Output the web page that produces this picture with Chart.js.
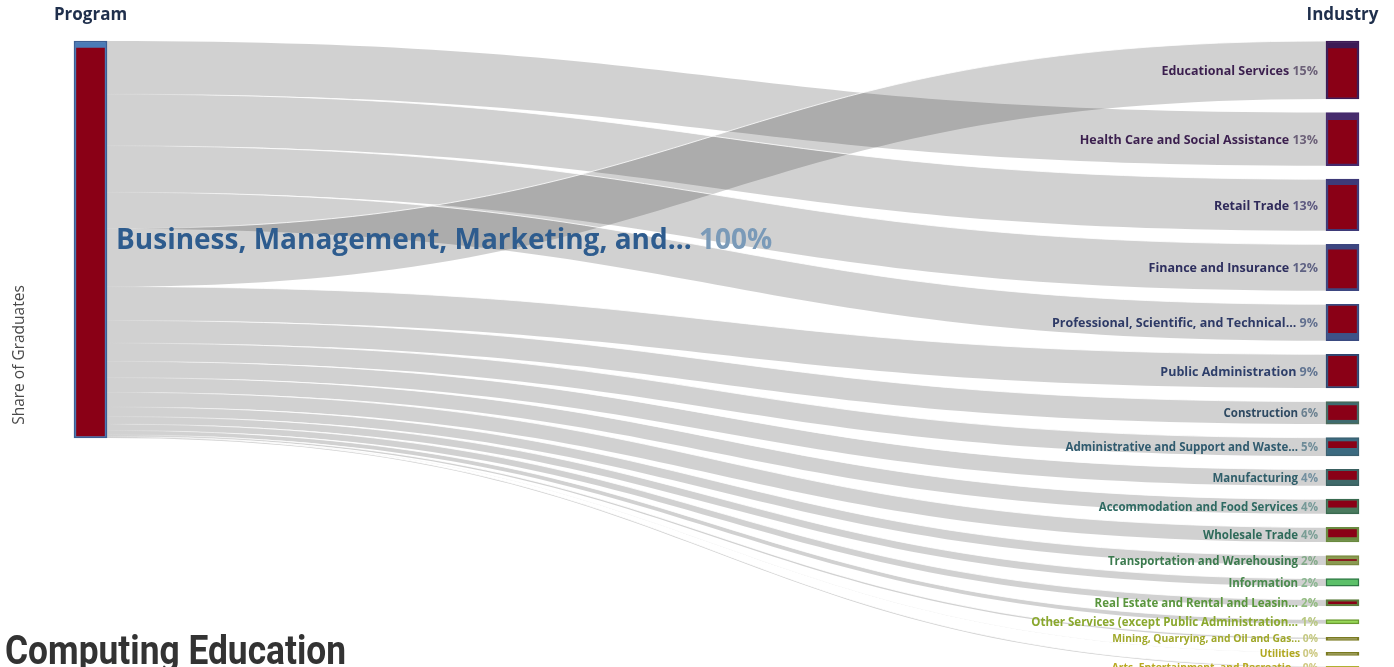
<!DOCTYPE html>
<html>
<head>
<meta charset="utf-8">
<script src="https://cdn.jsdelivr.net/npm/chart.js@4.4.1/dist/chart.umd.min.js"></script>
<style>
  body { margin: 0; background: #fff; }
  #wrap { width: 1394px; height: 667px; position: relative; }
</style>
</head>
<body>
<div id="wrap"><canvas id="sankey"></canvas></div>
<script>
// data (share of graduates, %)
const program = "Business, Management, Marketing, and...";
const industries = [
  "Educational Services", "Health Care and Social Assistance", "Retail Trade",
  "Finance and Insurance", "Professional, Scientific, and Technical...",
  "Public Administration", "Construction", "Administrative and Support and Waste...",
  "Manufacturing", "Accommodation and Food Services", "Wholesale Trade",
  "Transportation and Warehousing", "Information", "Real Estate and Rental and Leasin...",
  "Other Services (except Public Administration...", "Mining, Quarrying, and Oil and Gas...",
  "Utilities", "Arts, Entertainment, and Recreatio..."
];
const shares = [14.6, 13.4, 13.0, 11.7, 9.2, 8.5, 5.7, 4.6, 4.1, 3.7, 3.7, 2.4, 1.9, 1.6, 1.1, 0.4, 0.1, 0.3];
// order the bands leave the program node, top to bottom (index into industries)
const leaveOrder = [1, 2, 3, 4, 0, 5, 6, 7, 8, 9, 10, 11, 12, 13, 14, 15, 16, 17];
// red inner part of each node, fraction of node height measured from the top
const innerFrom = [0.13, 0.15, 0.12, 0.12, 0.05, 0.06, 0.18, 0.22, 0.12, 0.12, 0.15, 0.42, 0, 0.35, 0, 0, 0, 0];
const innerTo   = [0.97, 0.96, 0.96, 0.94, 0.78, 0.94, 0.80, 0.55, 0.62, 0.55, 0.65, 0.52, 0, 0.65, 0, 0, 0, 0];
const programInner = [0.018, 0.995];

// styles
const nodeColors = ["#3c1a55", "#462b6c", "#3e3a78", "#3d4680", "#3d5288", "#344f7a", "#3f6b6e", "#3b6a80",
  "#3f6a6a", "#4a7a5e", "#6a8a40", "#8a9a50", "#5cc069", "#5a7a3a", "#98d858", "#7a7a20", "#7a7a20", "#b0b030"];
const nodeBorders = ["#3c1a55", "#462b6c", "#3e3a78", "#3d4680", "#3a4a80", "#2e4570", "#4a6a5a", "#3a6070",
  "#3a6060", "#3a6a50", "#6a8a40", "#7a8a40", "#2f7a45", "#5a7a3a", "#6a9a30", "#7a7a20", "#7a7a20", "#b0b030"];
const nameColors = ["#3b1f4e", "#3b1f4e", "#2f2a5a", "#2e2f5e", "#2e3a66", "#2e3f6a", "#2f4a62", "#2f5a6e",
  "#2f5e6a", "#2e6a62", "#2e6a5a", "#3b7a4e", "#4a8a4e", "#5a963e", "#8aa82e", "#a0a82a", "#b0a820", "#b8a820"];
const pctColors = ["#6c6178", "#6c6178", "#5e5a80", "#5f6283", "#62708f", "#627592", "#6a8090", "#6f8c98",
  "#7390a0", "#769a98", "#7a9e95", "#84aa8a", "#8ab690", "#92bb80", "#b8c880", "#c4c880", "#ccc880", "#d0c880"];
const RED = "#8a0016";

const PX_PER_UNIT = 3.97;
const GAP = 13.5 / PX_PER_UNIT;
const Y_MAX = 626 / PX_PER_UNIT;
const NODE_W = 33;

const total = shares.reduce((a, b) => a + b, 0);
let acc = 0;
const rightNodes = shares.map(v => { const s = acc; acc += v + GAP; return [s, s + v]; });
const leftSegs = [];
acc = 0;
leaveOrder.forEach(i => { leftSegs[i] = [acc, acc + shares[i]]; acc += shares[i]; });

const part = (node, a, b) => [node[0] + (node[1] - node[0]) * a, node[0] + (node[1] - node[0]) * b];

const outerData = [{ x: 0, y: [0, total] }].concat(rightNodes.map(r => ({ x: 1, y: r })));
const innerData = [{ x: 0, y: part([0, total], programInner[0], programInner[1]) }]
  .concat(rightNodes.map((r, i) => innerTo[i] > innerFrom[i] ? { x: 1, y: part(r, innerFrom[i], innerTo[i]) } : null))
  .filter(d => d);

const flowPlugin = {
  id: 'flows',
  beforeDatasetsDraw(chart) {
    const { ctx, scales: { x, y } } = chart;
    const x0 = x.getPixelForValue(0) + NODE_W / 2;
    const x1 = x.getPixelForValue(1) - NODE_W / 2;
    const xm = (x0 + x1) / 2;
    ctx.save();
    shares.forEach((v, i) => {
      const ls = y.getPixelForValue(leftSegs[i][0]), le = y.getPixelForValue(leftSegs[i][1]);
      const rs = y.getPixelForValue(rightNodes[i][0]), re = y.getPixelForValue(rightNodes[i][1]);
      ctx.beginPath();
      ctx.moveTo(x0, ls);
      ctx.bezierCurveTo(xm, ls, xm, rs, x1, rs);
      ctx.lineTo(x1, re);
      ctx.bezierCurveTo(xm, re, xm, le, x0, le);
      ctx.closePath();
      ctx.fillStyle = "rgba(0,0,0,0.18)";
      ctx.fill();
    });
    // thin white seams between neighbouring bands, fading in from the left node
    const seam = ctx.createLinearGradient(x0, 0, x0 + 160, 0);
    seam.addColorStop(0, "rgba(255,255,255,0)");
    seam.addColorStop(1, "rgba(255,255,255,0.8)");
    ctx.strokeStyle = seam;
    ctx.lineWidth = 1;
    shares.forEach((v, i) => {
      if (leftSegs[i][0] === 0) return;
      const ls = y.getPixelForValue(leftSegs[i][0]);
      const rs = y.getPixelForValue(rightNodes[i][0]);
      ctx.beginPath();
      ctx.moveTo(x0, ls);
      ctx.bezierCurveTo(xm, ls, xm, rs, x1, rs);
      ctx.stroke();
    });
    ctx.restore();
  }
};

const labelPlugin = {
  id: 'labels',
  afterDatasetsDraw(chart) {
    const { ctx, scales: { x, y } } = chart;
    const xl = x.getPixelForValue(0), xr = x.getPixelForValue(1);
    ctx.save();
    ctx.textBaseline = "middle";

    // industry labels
    ctx.textAlign = "right";
    shares.forEach((v, i) => {
      const top = y.getPixelForValue(rightNodes[i][0]), bot = y.getPixelForValue(rightNodes[i][1]);
      const h = bot - top;
      const size = h >= 30 ? 12.5 : (h >= 3 ? 11.5 : 10.3);
      ctx.font = "bold " + size + "px 'Open Sans'";
      const cy = (top + bot) / 2 + 1;
      const tx = xr - NODE_W / 2 - 8;
      const pct = " " + Math.round(v / total * 100) + "%";
      ctx.fillStyle = pctColors[i];
      ctx.fillText(pct, tx, cy);
      const w = ctx.measureText(pct).width;
      ctx.fillStyle = nameColors[i];
      ctx.fillText(industries[i], tx - w, cy);
    });

    // program label
    ctx.textAlign = "left";
    ctx.font = "bold 28px 'Open Sans'";
    const py = y.getPixelForValue(total * 0.5) + 2;
    const lx = xl + NODE_W / 2 + 9;
    ctx.fillStyle = "#2e5c8e";
    ctx.fillText(program, lx, py);
    const pw = ctx.measureText(program + " ").width;
    ctx.fillStyle = "#7a9ab8";
    ctx.fillText(Math.round(total) + "%", lx + pw, py);

    // column headers
    ctx.textAlign = "center";
    ctx.font = "bold 17px 'Open Sans'";
    ctx.fillStyle = "#1f2f4c";
    ctx.fillText("Program", xl, 15);
    ctx.fillText("Industry", xr, 15);

    // axis title
    ctx.save();
    ctx.translate(20, 355);
    ctx.rotate(-Math.PI / 2);
    ctx.font = "15.5px 'Open Sans'";
    ctx.fillStyle = "#4a4a4a";
    ctx.fillText("Share of Graduates", 0, 0);
    ctx.restore();

    // page title
    ctx.save();
    ctx.font = "bold 41px Roboto";
    ctx.textAlign = "left";
    ctx.textBaseline = "alphabetic";
    const tw = ctx.measureText("Computing Education").width;
    ctx.translate(5, 664);
    ctx.scale(341 / tw, 1);
    ctx.fillStyle = "#333";
    ctx.fillText("Computing Education", 0, 0);
    ctx.restore();

    ctx.restore();
  }
};

new Chart("sankey", {
  type: "bar",
  data: {
    datasets: [
      {
        data: innerData,
        backgroundColor: RED,
        barThickness: NODE_W - 5,
        grouped: false,
        clip: false,
        order: 0
      },
      {
        data: outerData,
        backgroundColor: ["#4a7bb7"].concat(nodeColors),
        borderColor: ["#3d5f94"].concat(nodeBorders),
        borderWidth: 1.5,
        borderSkipped: false,
        barThickness: NODE_W,
        minBarLength: 3,
        grouped: false,
        clip: false,
        order: 1
      }
    ]
  },
  options: {
    responsive: true,
    maintainAspectRatio: false,
    animation: false,
    layout: { padding: { left: 90.5, right: 51.5, top: 41, bottom: 0 } },
    scales: {
      x: { type: "linear", min: 0, max: 1, offset: false, display: false },
      y: { type: "linear", reverse: true, min: 0, max: Y_MAX, display: false }
    },
    plugins: {
      legend: { display: false },
      tooltip: { enabled: false }
    }
  },
  plugins: [flowPlugin, labelPlugin]
});
</script>
</body>
</html>
